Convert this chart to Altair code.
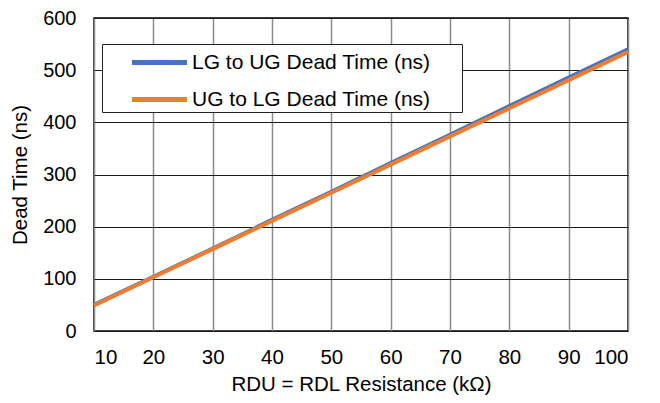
import altair as alt
import pandas as pd

x_vals = [10, 20, 30, 40, 50, 60, 70, 80, 90, 100]
lg_to_ug = [50, 104, 158, 213, 267, 322, 376, 431, 486, 540]
ug_to_lg = [49, 103, 157, 211, 265, 319, 373, 427, 481, 535]
y_ticks = [0, 100, 200, 300, 400, 500, 600]
series_names = ["LG to UG Dead Time (ns)", "UG to LG Dead Time (ns)"]
colors = ["#4472C4", "#ED7D31"]

rows = []
for xv, a, b in zip(x_vals, lg_to_ug, ug_to_lg):
    rows.append({"x": xv, "y": a, "s": series_names[0]})
    rows.append({"x": xv, "y": b, "s": series_names[1]})
df = pd.DataFrame(rows)

font = "Liberation Sans"
fs = 20.5
pad_spaces = "\u00a0" * 5 + "\u200b"

chart = alt.Chart(df).mark_line(strokeWidth=4, strokeCap="butt").encode(
    x=alt.X("x:Q", scale=alt.Scale(domain=[10, 100], nice=False),
            axis=alt.Axis(title="RDU = RDL Resistance (kΩ)", values=x_vals,
                          grid=True, gridColor="#8c8c8c", gridWidth=1.5,
                          domain=False, ticks=False, labelPadding=16,
                          labelFontSize=fs, titleFontSize=fs, titlePadding=7,
                          labelColor="#000", titleColor="#000",
                          labelFont=font, titleFont=font, titleFontWeight="normal")),
    y=alt.Y("y:Q", scale=alt.Scale(domain=[0, 600], nice=False),
            axis=alt.Axis(title="Dead Time (ns)", values=y_ticks,
                          grid=True, gridColor="#1a1a1a", gridWidth=1.2,
                          domain=False, ticks=False, labelPadding=18,
                          labelFontSize=20, titleFontSize=fs, titlePadding=12,
                          labelColor="#000", titleColor="#000",
                          labelFont=font, titleFont=font, titleFontWeight="normal")),
    color=alt.Color("s:N", scale=alt.Scale(domain=series_names, range=colors),
                    legend=alt.Legend(title=None, orient="none", legendX=8, legendY=26,
                                      symbolType="M-2,0H2", symbolStrokeWidth=5,
                                      symbolSize=756, labelFontSize=21, labelFont=font,
                                      labelColor="#000", labelLimit=500,
                                      labelExpr="datum.label + '" + pad_spaces + "'",
                                      fillColor="white", strokeColor="#222",
                                      padding=2, rowPadding=10, symbolOffset=39,
                                      labelOffset=16)),
).properties(
    width=534, height=313,
    padding={"left": 86, "top": 10, "right": 24, "bottom": 64},
    autosize=alt.AutoSizeParams(type="none"),
).configure_view(stroke="#000", strokeWidth=1.5)

chart.save("out.html", embed_options={"renderer": "svg", "actions": False})
